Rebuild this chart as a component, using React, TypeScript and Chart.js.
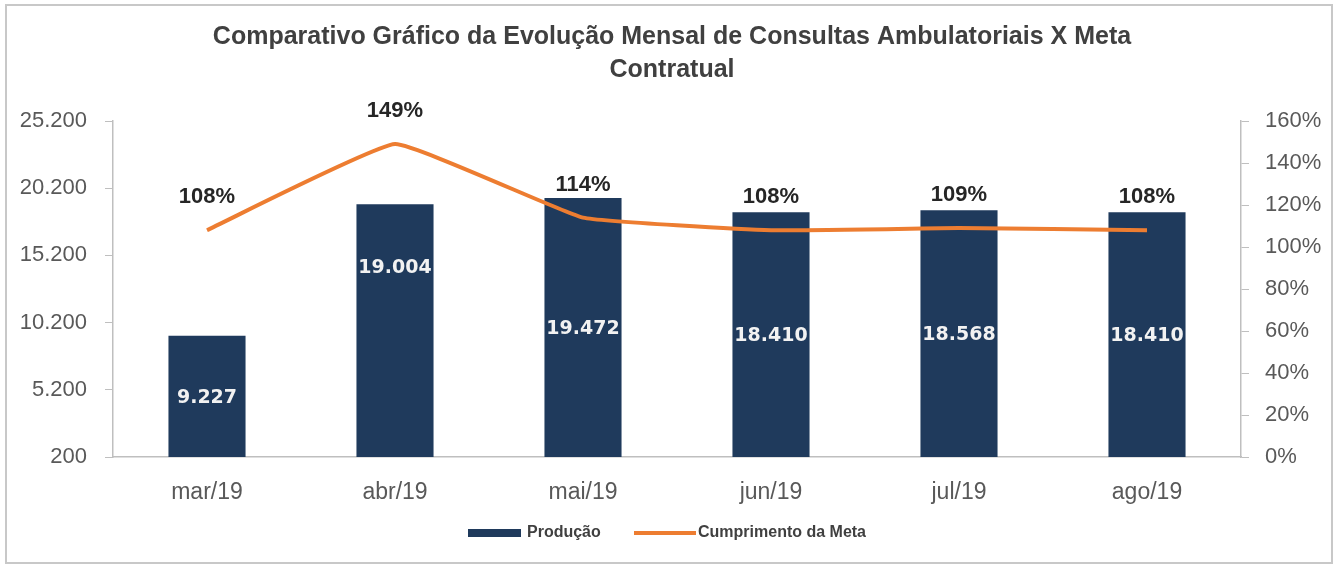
import React, { useEffect, useRef } from "react";
import { Chart, registerables } from "chart.js";

Chart.register(...registerables);

const categories = ["mar/19", "abr/19", "mai/19", "jun/19", "jul/19", "ago/19"];
const producao = [9227, 19004, 19472, 18410, 18568, 18410];
const cumprimento = [1.08, 1.49, 1.14, 1.08, 1.09, 1.08];
const leftTickValues = [200, 5200, 10200, 15200, 20200, 25200];
const rightTickValues = [0, 0.2, 0.4, 0.6, 0.8, 1.0, 1.2, 1.4, 1.6];
const titleLines = [
  "Comparativo Gráfico da Evolução Mensal de Consultas Ambulatoriais X Meta",
  "Contratual",
];
const seriesNames = ["Produção", "Cumprimento da Meta"];

const BAR_COLOR = "#1F3A5C";
const LINE_COLOR = "#ED7D31";
const AXIS_COLOR = "#BFBFBF";
const TEXT_COLOR = "#404040";

const fmtThousands = (n: number) =>
  String(Math.round(n)).replace(/\B(?=(\d{3})+(?!\d))/g, ".");
const fmtPct = (v: number) => Math.round(v * 100) + "%";

// fraction of bar height (from top) where each white value label sits
const barLabelAnchor = [0.5, 0.25, 0.5, 0.5, 0.5, 0.5];

const decorPlugin = {
  id: "decor",
  beforeDraw(chart: any) {
    const ctx = chart.ctx;
    ctx.save();
    ctx.fillStyle = "#ffffff";
    ctx.fillRect(0, 0, chart.width, chart.height);
    ctx.strokeStyle = "#C8C8C8";
    ctx.lineWidth = 2;
    ctx.strokeRect(6, 5, 1326, 558);
    ctx.restore();
  },
  afterDraw(chart: any) {
    const ctx = chart.ctx;
    ctx.save();
    // title
    ctx.fillStyle = TEXT_COLOR;
    ctx.textAlign = "center";
    ctx.textBaseline = "middle";
    ctx.font = "bold 25px 'Liberation Sans', sans-serif";
    ctx.fillText(titleLines[0], 672, 37);
    ctx.fillText(titleLines[1], 672, 70);

    // bar value labels
    const barMeta = chart.getDatasetMeta(0);
    ctx.font = "bold 19px 'DejaVu Sans', sans-serif";
    ctx.fillStyle = "#F2F2F2";
    barMeta.data.forEach((bar: any, i: number) => {
      const top = bar.y;
      const bottom = bar.base;
      const y = top + (bottom - top) * barLabelAnchor[i];
      ctx.fillText(fmtThousands(producao[i]), bar.x, y);
    });

    // line percentage labels
    const lineMeta = chart.getDatasetMeta(1);
    ctx.font = "bold 22px 'Liberation Sans', sans-serif";
    ctx.fillStyle = "#262626";
    lineMeta.data.forEach((pt: any, i: number) => {
      ctx.fillText(fmtPct(cumprimento[i]), pt.x, pt.y - 33);
    });

    // legend
    const ly = 533;
    ctx.fillStyle = BAR_COLOR;
    ctx.fillRect(468, ly - 4, 53, 8);
    ctx.font = "bold 16px 'Liberation Sans', sans-serif";
    ctx.fillStyle = TEXT_COLOR;
    ctx.textAlign = "left";
    ctx.fillText(seriesNames[0], 527, ly);
    ctx.strokeStyle = LINE_COLOR;
    ctx.lineWidth = 4;
    ctx.beginPath();
    ctx.moveTo(634, ly);
    ctx.lineTo(696, ly);
    ctx.stroke();
    ctx.fillText(seriesNames[1], 698, ly);
    ctx.restore();
  },
};

export default function App() {
  const ref = useRef<HTMLCanvasElement | null>(null);
  useEffect(() => {
    document.body.style.margin = "0";
    const canvas = ref.current;
    if (!canvas) return;
    const chart = new Chart(canvas, {
      type: "bar",
      data: {
        labels: categories,
        datasets: [
          {
            type: "bar",
            label: seriesNames[0],
            data: producao,
            backgroundColor: BAR_COLOR,
            yAxisID: "y",
            categoryPercentage: 1,
            barPercentage: 0.41,
            order: 2,
          },
          {
            type: "line",
            label: seriesNames[1],
            data: cumprimento,
            borderColor: LINE_COLOR,
            backgroundColor: LINE_COLOR,
            borderWidth: 4,
            pointRadius: 0,
            tension: 0.1,
            yAxisID: "y1",
            order: 1,
          } as any,
        ],
      },
      options: {
        animation: false,
        responsive: false,
        events: [],
        layout: { padding: { top: 121, bottom: 50, left: 0, right: 0 } },
        plugins: {
          legend: { display: false },
          title: { display: false },
          tooltip: { enabled: false },
        },
        scales: {
          x: {
            offset: true,
            grid: { display: false },
            border: { display: true, color: AXIS_COLOR, width: 1.5 },
            ticks: {
              color: "#595959",
              padding: 14,
              font: { family: "'Liberation Sans', sans-serif", size: 23 },
            },
            afterFit: (s: any) => {
              s.height = 60;
            },
          },
          y: {
            position: "left",
            min: 200,
            max: 25200,
            afterBuildTicks: (s: any) => {
              s.ticks = leftTickValues.map((v) => ({ value: v }));
            },
            grid: {
              drawOnChartArea: false,
              drawTicks: true,
              tickLength: 8,
              color: AXIS_COLOR,
            },
            border: { display: true, color: AXIS_COLOR, width: 1.5 },
            ticks: {
              color: "#595959",
              padding: 18,
              font: { family: "'Liberation Sans', sans-serif", size: 22 },
              callback: (v: any) => fmtThousands(Number(v)),
            },
            afterFit: (s: any) => {
              s.width = 113;
            },
          },
          y1: {
            position: "right",
            min: 0,
            max: 1.6,
            afterBuildTicks: (s: any) => {
              s.ticks = rightTickValues.map((v) => ({ value: v }));
            },
            grid: {
              drawOnChartArea: false,
              drawTicks: true,
              tickLength: 8,
              color: AXIS_COLOR,
            },
            border: { display: true, color: AXIS_COLOR, width: 1.5 },
            ticks: {
              color: "#595959",
              padding: 16,
              font: { family: "'Liberation Sans', sans-serif", size: 22 },
              callback: (v: any) => fmtPct(Number(v)),
            },
            afterFit: (s: any) => {
              s.width = 100;
            },
          },
        },
      },
      plugins: [decorPlugin],
    });
    return () => chart.destroy();
  }, []);
  return (
    <div style={{ width: 1341, height: 567 }}>
      <canvas ref={ref} width={1341} height={567} style={{ display: "block" }} />
    </div>
  );
}
